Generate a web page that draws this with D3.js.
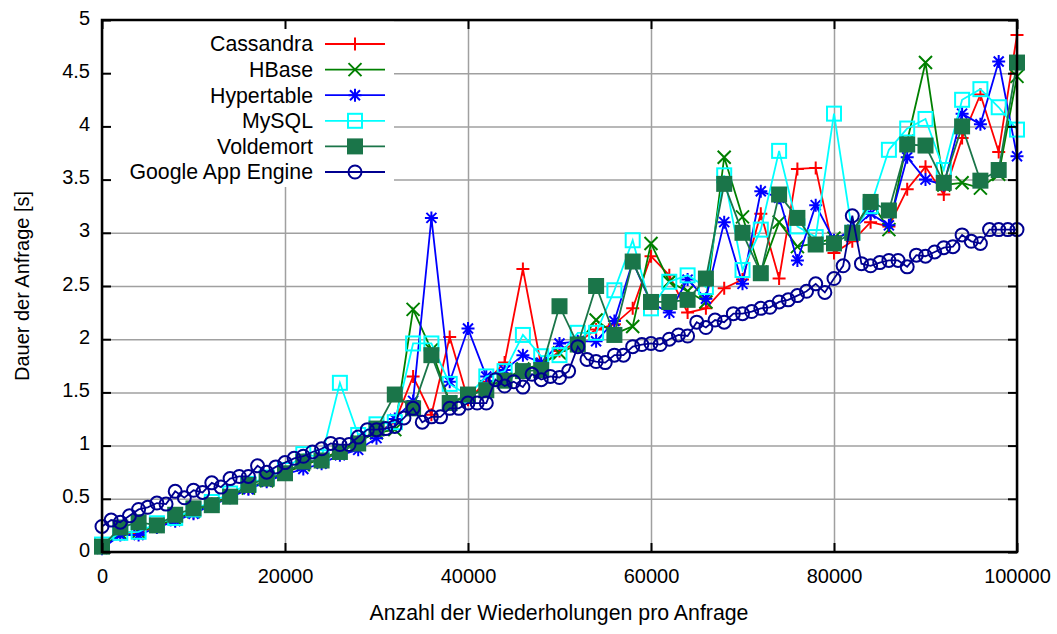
<!DOCTYPE html>
<html>
<head>
<meta charset="utf-8">
<script src="https://cdn.jsdelivr.net/npm/d3@7"></script>
<style>
body { margin: 0; background: #fff; }
text { font-family: "Liberation Sans", Arial, sans-serif; font-size: 20px; fill: #000; }
text.wide { font-size: 21.3px; }
</style>
</head>
<body>
<svg id="chart" width="1057" height="634"></svg>
<script>
// x values (repetitions per request)
var reps = [0, 2000, 4000, 6000, 8000, 10000, 12000, 14000, 16000, 18000, 20000,
  22000, 24000, 26000, 28000, 30000, 32000, 34000, 36000, 38000, 40000,
  42000, 44000, 46000, 48000, 50000, 52000, 54000, 56000, 58000, 60000,
  62000, 64000, 66000, 68000, 70000, 72000, 74000, 76000, 78000, 80000,
  82000, 84000, 86000, 88000, 90000, 92000, 94000, 96000, 98000, 100000]

var repsGae = [0, 1000, 2000, 3000, 4000, 5000, 6000, 7000, 8000, 9000,
  10000, 11000, 12000, 13000, 14000, 15000, 16000, 17000, 18000, 19000,
  20000, 21000, 22000, 23000, 24000, 25000, 26000, 27000, 28000, 29000,
  30000, 31000, 32000, 33000, 34000, 35000, 36000, 37000, 38000, 39000,
  40000, 41000, 42000, 43000, 44000, 45000, 46000, 47000, 48000, 49000,
  50000, 51000, 52000, 53000, 54000, 55000, 56000, 57000, 58000, 59000,
  60000, 61000, 62000, 63000, 64000, 65000, 66000, 67000, 68000, 69000,
  70000, 71000, 72000, 73000, 74000, 75000, 76000, 77000, 78000, 79000,
  80000, 81000, 82000, 83000, 84000, 85000, 86000, 87000, 88000, 89000,
  90000, 91000, 92000, 93000, 94000, 95000, 96000, 97000, 98000, 99000, 100000]

// durations [s]
var cassandra = [0.05, 0.17, 0.18, 0.24, 0.30, 0.37, 0.45, 0.53, 0.60, 0.67, 0.74,
  0.82, 0.87, 0.95, 1.05, 1.12, 1.22, 1.65, 1.29, 2.02, 1.43,
  1.60, 1.78, 2.66, 1.75, 1.89, 1.97, 2.09, 2.14, 2.29, 2.78,
  2.60, 2.25, 2.29, 2.48, 2.56, 3.18, 2.57, 3.60, 3.61, 2.81,
  2.92, 3.10, 3.06, 3.41, 3.62, 3.36, 3.89, 4.30, 3.76, 4.86]

var hbase = [0.05, 0.18, 0.19, 0.25, 0.31, 0.38, 0.45, 0.52, 0.60, 0.67, 0.74,
  0.82, 0.87, 0.95, 1.04, 1.12, 1.15, 2.28, 1.90, 1.41, 1.45,
  1.55, 1.62, 1.72, 1.76, 1.87, 1.95, 2.18, 2.05, 2.12, 2.90,
  2.54, 2.45, 2.35, 3.71, 3.15, 2.63, 3.10, 2.87, 2.90, 2.95,
  3.00, 3.30, 3.03, 3.86, 4.60, 3.45, 3.47, 3.42, 3.55, 4.47]

var hypertable = [0.03, 0.16, 0.16, 0.23, 0.29, 0.36, 0.44, 0.51, 0.59, 0.66, 0.73,
  0.78, 0.83, 0.91, 0.96, 1.07, 1.25, 1.42, 3.14, 1.60, 2.10,
  1.65, 1.71, 1.85, 1.78, 1.96, 1.98, 1.98, 2.17, 2.73, 2.34,
  2.25, 2.56, 2.38, 3.10, 2.52, 3.39, 3.33, 2.74, 3.26, 2.93,
  3.03, 3.18, 3.07, 3.71, 3.50, 3.45, 4.12, 4.02, 4.61, 3.72]

var mysql = [0.07, 0.18, 0.19, 0.27, 0.32, 0.40, 0.47, 0.55, 0.64, 0.70, 0.77,
  0.92, 0.89, 1.59, 1.10, 1.20, 1.22, 1.96, 1.96, 1.58, 1.47,
  1.65, 1.70, 2.04, 1.84, 1.85, 2.06, 2.06, 2.46, 2.93, 2.29,
  2.54, 2.60, 2.49, 3.54, 2.65, 3.03, 3.77, 3.06, 2.96, 4.12,
  3.00, 3.25, 3.78, 3.98, 4.07, 3.59, 4.25, 4.35, 4.18, 3.97]

var voldemort = [0.05, 0.23, 0.28, 0.25, 0.35, 0.41, 0.44, 0.52, 0.63, 0.69, 0.74,
  0.85, 0.86, 0.94, 1.02, 1.16, 1.48, 1.35, 1.85, 1.40, 1.48,
  1.52, 1.61, 1.70, 1.71, 2.31, 1.95, 2.50, 2.04, 2.73, 2.35,
  2.35, 2.37, 2.57, 3.46, 3.00, 2.62, 3.36, 3.14, 2.89, 2.90,
  3.00, 3.29, 3.21, 3.83, 3.82, 3.47, 4.00, 3.49, 3.59, 4.60]

var gae = [0.24, 0.30, 0.28, 0.34, 0.40, 0.42, 0.46, 0.45, 0.57, 0.51,
  0.58, 0.56, 0.65, 0.61, 0.69, 0.71, 0.71, 0.81, 0.75, 0.80,
  0.84, 0.88, 0.90, 0.94, 0.97, 1.02, 1.01, 1.01, 1.08, 1.15,
  1.15, 1.16, 1.18, 1.26, 1.35, 1.22, 1.27, 1.27, 1.35, 1.35,
  1.40, 1.40, 1.40, 1.62, 1.56, 1.60, 1.55, 1.67, 1.62, 1.65,
  1.64, 1.70, 1.93, 1.81, 1.79, 1.78, 1.85, 1.85, 1.93, 1.95,
  1.96, 1.95, 2.00, 2.04, 2.03, 2.16, 2.11, 2.18, 2.16, 2.24,
  2.24, 2.26, 2.29, 2.30, 2.35, 2.37, 2.41, 2.45, 2.52, 2.44,
  2.57, 2.69, 3.16, 2.71, 2.69, 2.72, 2.74, 2.74, 2.68, 2.79,
  2.78, 2.82, 2.86, 2.87, 2.98, 2.92, 2.90, 3.03, 3.03, 3.03, 3.03]

var seriesNames = ["Cassandra", "HBase", "Hypertable", "MySQL", "Voldemort", "Google App Engine"]
var xTicks = [0, 20000, 40000, 60000, 80000, 100000]
var yTicks = [0, 0.5, 1, 1.5, 2, 2.5, 3, 3.5, 4, 4.5, 5]
var xTitle = "Anzahl der Wiederholungen pro Anfrage"
var yTitle = "Dauer der Anfrage [s]"

var series = [
  {name: seriesNames[0], xs: reps, ys: cassandra, color: "#ff0000", marker: "plus"},
  {name: seriesNames[1], xs: reps, ys: hbase, color: "#008000", marker: "cross"},
  {name: seriesNames[2], xs: reps, ys: hypertable, color: "#0000ff", marker: "star"},
  {name: seriesNames[3], xs: reps, ys: mysql, color: "#00ffff", marker: "square"},
  {name: seriesNames[4], xs: reps, ys: voldemort, color: "#1a7549", marker: "fsquare"},
  {name: seriesNames[5], xs: repsGae, ys: gae, color: "#000090", marker: "circle"}
]

var LEFT = 102, RIGHT = 1017, TOP = 20, BOTTOM = 552
var TICK = 9
var GRID_COLOR = "#a0a0a0"

var svg = d3.select("#chart")
var x = d3.scaleLinear().domain([0, 100000]).range([LEFT, RIGHT])
var y = d3.scaleLinear().domain([0, 5]).range([BOTTOM, TOP])

// grid
svg.append("g")
  .attr("transform", "translate(0," + BOTTOM + ")")
  .call(d3.axisBottom(x).tickValues(xTicks).tickSize(-(BOTTOM - TOP)).tickFormat(""))
  .call(g => g.select(".domain").remove())
  .selectAll("line").attr("stroke", GRID_COLOR).attr("stroke-width", 1.5)
svg.append("g")
  .attr("transform", "translate(" + LEFT + ",0)")
  .call(d3.axisLeft(y).tickValues(yTicks).tickSize(-(RIGHT - LEFT)).tickFormat(""))
  .call(g => g.select(".domain").remove())
  .selectAll("line").attr("stroke", GRID_COLOR).attr("stroke-width", 1.5)

// legend background hides the grid
svg.append("rect")
  .attr("x", LEFT + 2).attr("y", TOP + 1)
  .attr("width", 290).attr("height", 166)
  .attr("fill", "#fff")

function markerPath(type) {
  var s = 6.5
  if (type == "plus") return "M" + -s + ",0H" + s + "M0," + -s + "V" + s
  if (type == "cross") return "M" + -s + "," + -s + "L" + s + "," + s + "M" + -s + "," + s + "L" + s + "," + -s
  if (type == "star") return "M" + -s + ",0H" + s + "M0," + -s + "V" + s +
    "M-5,-5L5,5M-5,5L5,-5"
  return null
}

function drawMarker(g, type, color, cx, cy) {
  if (type == "circle") {
    g.append("circle").attr("cx", cx).attr("cy", cy).attr("r", 6.5)
      .attr("fill", "none").attr("stroke", color).attr("stroke-width", 2)
  } else if (type == "square") {
    g.append("rect").attr("x", cx - 7).attr("y", cy - 7).attr("width", 14).attr("height", 14)
      .attr("fill", "none").attr("stroke", color).attr("stroke-width", 2)
  } else if (type == "fsquare") {
    g.append("rect").attr("x", cx - 8).attr("y", cy - 8).attr("width", 16).attr("height", 16)
      .attr("fill", color)
  } else {
    g.append("path").attr("transform", "translate(" + cx + "," + cy + ")")
      .attr("d", markerPath(type))
      .attr("fill", "none").attr("stroke", color).attr("stroke-width", 2)
  }
}

var line = d3.line().x(d => x(d[0])).y(d => y(d[1]))

for (const s of series) {
  var pts = s.xs.map((v, i) => [v, s.ys[i]])
  var g = svg.append("g")
  g.append("path")
    .attr("d", line(pts))
    .attr("fill", "none")
    .attr("stroke", s.color)
    .attr("stroke-width", 1.8)
    .attr("stroke-linejoin", "miter")
  for (const p of pts) {
    drawMarker(g, s.marker, s.color, x(p[0]), y(p[1]))
  }
}

// axes with inward ticks on all four sides
var axisStyle = g => {
  g.select(".domain").remove()
  g.selectAll("line").attr("stroke", "#000").attr("stroke-width", 2)
}
svg.append("g")
  .attr("transform", "translate(" + LEFT + ",0)")
  .call(d3.axisLeft(y).tickValues(yTicks).tickSizeInner(-TICK).tickSizeOuter(0).tickPadding(12)
    .tickFormat(d => String(d)))
  .call(axisStyle)
  .call(g => g.selectAll("text").attr("font-size", null).attr("font-family", null).attr("dy", "0.2em"))
svg.append("g")
  .attr("transform", "translate(" + RIGHT + ",0)")
  .call(d3.axisRight(y).tickValues(yTicks).tickSizeInner(-TICK).tickSizeOuter(0).tickFormat(""))
  .call(axisStyle)
svg.append("g")
  .attr("transform", "translate(0," + BOTTOM + ")")
  .call(d3.axisBottom(x).tickValues(xTicks).tickSizeInner(-TICK).tickSizeOuter(0).tickPadding(17)
    .tickFormat(d => String(d)))
  .call(axisStyle)
  .call(g => g.selectAll("text").attr("font-size", null).attr("font-family", null))
svg.append("g")
  .attr("transform", "translate(0," + TOP + ")")
  .call(d3.axisTop(x).tickValues(xTicks).tickSizeInner(-TICK).tickSizeOuter(0).tickFormat(""))
  .call(axisStyle)

svg.append("rect")
  .attr("x", LEFT).attr("y", TOP)
  .attr("width", RIGHT - LEFT).attr("height", BOTTOM - TOP)
  .attr("fill", "none").attr("stroke", "#000").attr("stroke-width", 2.5)

// axis titles
svg.append("text")
  .attr("class", "wide")
  .attr("x", 559).attr("y", 620)
  .attr("text-anchor", "middle")
  .text(xTitle)
svg.append("text")
  .attr("transform", "translate(29," + (TOP + BOTTOM) / 2 + ") rotate(-90)")
  .attr("text-anchor", "middle")
  .text(yTitle)

// legend
series.forEach((s, i) => {
  var ly = 44 + i * 25.6
  svg.append("text")
    .attr("class", "wide")
    .attr("x", 313).attr("y", ly).attr("dy", "0.35em")
    .attr("text-anchor", "end")
    .text(s.name)
  var g = svg.append("g")
  g.append("line")
    .attr("x1", 325).attr("x2", 385).attr("y1", ly).attr("y2", ly)
    .attr("stroke", s.color).attr("stroke-width", 1.8)
  drawMarker(g, s.marker, s.color, 355, ly)
})
</script>
</body>
</html>
